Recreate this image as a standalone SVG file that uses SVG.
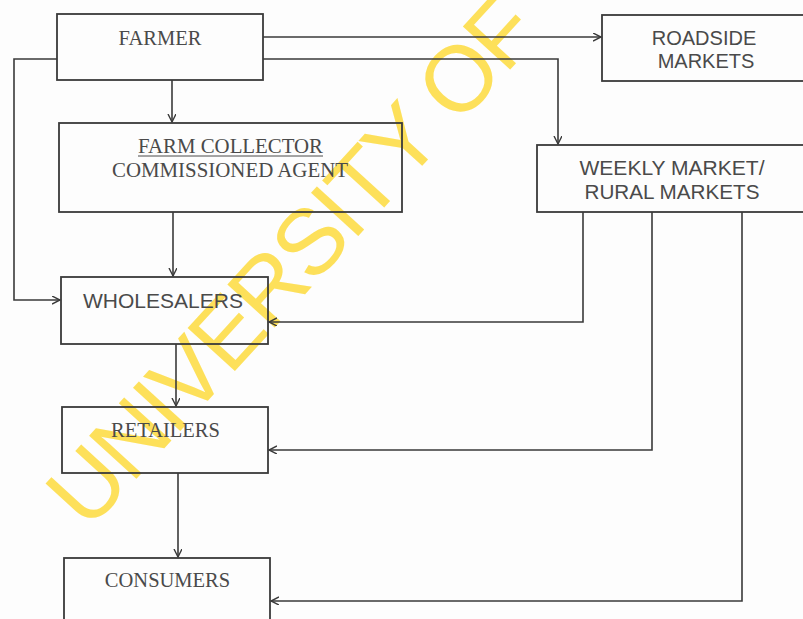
<svg xmlns="http://www.w3.org/2000/svg" width="803" height="619" viewBox="0 0 803 619">
<style>
.box{fill:none;stroke:#3a3a3a;stroke-width:1.8}
.serif{font-family:"Liberation Serif","Times New Roman",serif;font-size:20.5px;fill:#4a4a4a;text-anchor:middle}
.sans{font-family:"Liberation Sans",Arial,sans-serif;font-size:20px;fill:#4a4a4a;text-anchor:middle}
.wire{fill:none;stroke:#3a3a3a;stroke-width:1.6}
.wm{font-family:"Liberation Sans",Arial,sans-serif;font-size:93px;letter-spacing:-3px;fill:#FDE05A}
</style>
<defs>
<marker id="arr" markerWidth="10" markerHeight="10" refX="8" refY="4" orient="auto" markerUnits="userSpaceOnUse">
<path d="M0,0 L8,4 L0,8" fill="none" stroke="#3a3a3a" stroke-width="1.4"/>
</marker>
</defs>
<rect x="0" y="0" width="803" height="619" fill="#fdfdfd"/>
<text class="wm" transform="translate(88,532) rotate(-47.6)">UNIVERSITY OF</text>

<g id="connectors">
<path class="wire" d="M263,37 H601" marker-end="url(#arr)"/>
<path class="wire" d="M263,59 H558 V144" marker-end="url(#arr)"/>
<path class="wire" d="M57,59 H14 V300 H60" marker-end="url(#arr)"/>
<path class="wire" d="M172,80 V122" marker-end="url(#arr)"/>
<path class="wire" d="M173,212 V276" marker-end="url(#arr)"/>
<path class="wire" d="M176,344 V406" marker-end="url(#arr)"/>
<path class="wire" d="M178,473 V557" marker-end="url(#arr)"/>
<path class="wire" d="M583,212 V322 H269" marker-end="url(#arr)"/>
<path class="wire" d="M652,212 V450 H269" marker-end="url(#arr)"/>
<path class="wire" d="M742,212 V601 H271" marker-end="url(#arr)"/>
</g>

<g id="farmer">
<rect class="box" x="57" y="14" width="206" height="66"/>
<text class="serif" x="160" y="45">FARMER</text>
</g>
<g id="farm-collector">
<rect class="box" x="59" y="123" width="343" height="89"/>
<text class="serif" x="230.5" y="153" textLength="185" lengthAdjust="spacingAndGlyphs">FARM COLLECTOR</text>
<line x1="138" y1="156" x2="323" y2="156" stroke="#4a4a4a" stroke-width="1"/>
<text class="serif" x="230" y="177" textLength="236" lengthAdjust="spacingAndGlyphs">COMMISSIONED AGENT</text>
</g>
<g id="roadside">
<rect class="box" x="602" y="15" width="206" height="66"/>
<text class="sans" x="704" y="45">ROADSIDE</text>
<text class="sans" x="706" y="68">MARKETS</text>
</g>
<g id="weekly">
<rect class="box" x="537" y="145" width="271" height="67"/>
<text class="sans" x="672" y="175" textLength="185" lengthAdjust="spacingAndGlyphs">WEEKLY MARKET/</text>
<text class="sans" x="672" y="199" textLength="175" lengthAdjust="spacingAndGlyphs">RURAL MARKETS</text>
</g>
<g id="wholesalers">
<rect class="box" x="61" y="277" width="207" height="67"/>
<text class="sans" x="163" y="308" textLength="160" lengthAdjust="spacingAndGlyphs">WHOLESALERS</text>
</g>
<g id="retailers">
<rect class="box" x="62" y="407" width="206" height="66"/>
<text class="serif" x="165.5" y="437">RETAILERS</text>
</g>
<g id="consumers">
<rect class="box" x="64" y="558" width="206" height="66"/>
<text class="serif" x="167.5" y="587">CONSUMERS</text>
</g>
</svg>
